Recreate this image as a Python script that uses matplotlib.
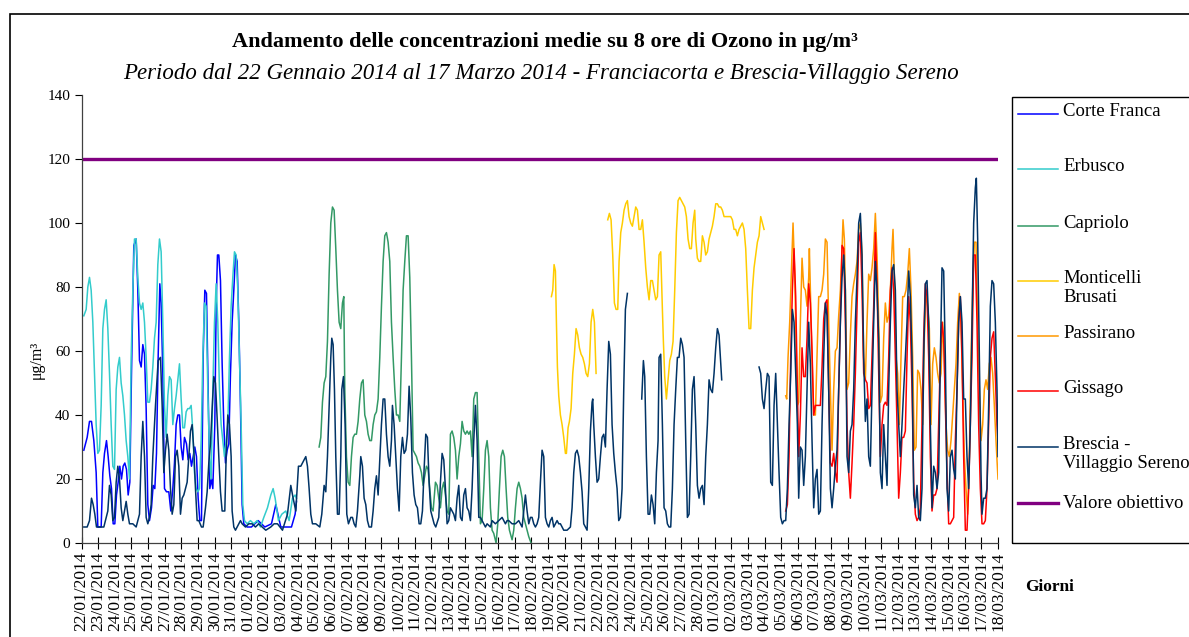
import numpy as np
import pandas as pd
import matplotlib
matplotlib.use("Agg")
import matplotlib.pyplot as plt
from matplotlib.lines import Line2D
from matplotlib.patches import Rectangle

plt.rcParams['font.family'] = ['Liberation Serif', 'DejaVu Serif']

# medie mobili su 8 ore, (giorno dal 22/01/2014, ug/m3); None = dato mancante
corte_franca = [
    (0.14, 29), (0.34, 33), (0.48, 38), (0.60, 38), (0.74, 32), (0.88, 22), (0.98, 5), (1.18, 5),
    (1.28, 22), (1.38, 28), (1.50, 32), (1.60, 27), (1.70, 21), (1.80, 17), (1.90, 6), (2.00, 6),
    (2.10, 15), (2.20, 19), (2.30, 24), (2.40, 20), (2.50, 24), (2.60, 25), (2.70, 23), (2.80, 15),
    (2.90, 19), (3.00, 53), (3.14, 93), (3.28, 95), (3.38, 79), (3.48, 57), (3.58, 55), (3.68, 62),
    (3.78, 59), (3.88, 42), (3.98, 12), (4.08, 7), (4.20, 11), (4.30, 18), (4.40, 17), (4.50, 28),
    (4.60, 58), (4.70, 81), (4.78, 75), (4.88, 53), (4.98, 17), (5.10, 16), (5.24, 16), (5.36, 10),
    (5.48, 17), (5.58, 25), (5.68, 37), (5.78, 40), (5.88, 40), (5.98, 30), (6.08, 26), (6.18, 33),
    (6.30, 31), (6.40, 26), (6.50, 28), (6.60, 24), (6.70, 27), (6.80, 30), (6.90, 27), (7.00, 14),
    (7.10, 7), (7.20, 7), (7.30, 58), (7.40, 79), (7.50, 78), (7.60, 48), (7.70, 17), (7.80, 20),
    (7.88, 17), (8.00, 37), (8.08, 74), (8.16, 90), (8.24, 90), (8.34, 82), (8.44, 56), (8.54, 37),
    (8.64, 25), (8.74, 29), (8.84, 31), (8.94, 53), (9.04, 69), (9.14, 79), (9.24, 90), (9.34, 88),
    (9.44, 69), (9.54, 43), (9.64, 12), (9.74, 6), (9.94, 5), (10.2, 5), (10.6, 7), (11.0, 5),
    (11.4, 6), (11.66, 12), (11.96, 5), (12.6, 5), (12.82, 9), (12.9, 13),
]

erbusco = [
    (0.14, 71), (0.28, 73), (0.38, 80), (0.48, 83), (0.58, 79), (0.68, 69), (0.78, 53), (0.88, 37),
    (0.98, 28), (1.08, 29), (1.18, 43), (1.28, 67), (1.38, 73), (1.48, 76), (1.58, 67), (1.68, 53),
    (1.78, 37), (1.88, 24), (1.98, 23), (2.08, 48), (2.18, 55), (2.28, 58), (2.38, 50), (2.48, 46),
    (2.58, 40), (2.68, 32), (2.78, 27), (2.88, 20), (2.98, 58), (3.08, 79), (3.18, 95), (3.28, 95),
    (3.38, 83), (3.48, 75), (3.58, 73), (3.68, 75), (3.78, 69), (3.88, 58), (3.98, 44), (4.08, 44),
    (4.18, 48), (4.28, 55), (4.38, 64), (4.48, 69), (4.58, 87), (4.68, 95), (4.78, 91), (4.88, 69),
    (4.98, 43), (5.08, 33), (5.18, 46), (5.28, 52), (5.38, 51), (5.48, 37), (5.58, 42), (5.68, 46),
    (5.78, 51), (5.88, 56), (5.98, 45), (6.08, 36), (6.18, 36), (6.28, 41), (6.38, 42), (6.48, 42),
    (6.58, 43), (6.68, 35), (6.78, 22), (6.88, 17), (6.98, 16), (7.08, 17), (7.18, 32), (7.28, 58),
    (7.38, 75), (7.48, 74), (7.58, 48), (7.68, 27), (7.78, 20), (7.88, 48), (7.98, 69), (8.08, 81),
    (8.18, 69), (8.28, 48), (8.38, 37), (8.48, 32), (8.58, 27), (8.68, 32), (8.78, 37), (8.88, 58),
    (8.98, 74), (9.08, 83), (9.18, 91), (9.28, 90), (9.38, 79), (9.48, 58), (9.58, 37), (9.68, 12),
    (9.78, 7), (9.94, 6), (10.14, 7), (10.34, 6), (10.54, 7), (10.74, 5), (10.94, 8), (11.16, 11),
    (11.36, 15), (11.5, 17), (11.62, 14), (11.82, 7), (12.02, 9), (12.26, 10), (12.46, 7), (12.66, 14),
    (12.82, 15), (12.9, 14),
]

capriolo = [
    (14.26, 30), (14.36, 33), (14.46, 44), (14.56, 50), (14.66, 52), (14.76, 63), (14.86, 84), (14.96, 100),
    (15.06, 105), (15.16, 104), (15.26, 92), (15.36, 79), (15.46, 69), (15.56, 67), (15.66, 75), (15.74, 77),
    (15.80, 48), (15.90, 27), (16.00, 19), (16.10, 18), (16.20, 27), (16.30, 33), (16.40, 34), (16.50, 34),
    (16.60, 38), (16.70, 45), (16.80, 50), (16.90, 51), (17.00, 40), (17.10, 38), (17.20, 34), (17.30, 32),
    (17.40, 32), (17.50, 37), (17.60, 40), (17.70, 41), (17.80, 45), (17.90, 58), (18.00, 74), (18.10, 88),
    (18.20, 96), (18.30, 97), (18.40, 94), (18.50, 88), (18.60, 69), (18.70, 58), (18.80, 48), (18.90, 40),
    (19.00, 40), (19.10, 38), (19.20, 58), (19.30, 79), (19.40, 88), (19.50, 96), (19.60, 96), (19.70, 83),
    (19.80, 58), (19.90, 29), (20.00, 28), (20.10, 27), (20.20, 25), (20.30, 24), (20.40, 22), (20.50, 18),
    (20.60, 21), (20.70, 24), (20.80, 23), (20.90, 17), (21.00, 11), (21.10, 10), (21.24, 19), (21.34, 18),
    (21.44, 14), (21.54, 11), (21.64, 17), (21.74, 19), (21.84, 15), (21.94, 10), (22.04, 9), (22.14, 34),
    (22.24, 35), (22.34, 33), (22.44, 29), (22.54, 20), (22.64, 27), (22.74, 31), (22.84, 38), (22.94, 35),
    (23.04, 34), (23.14, 35), (23.24, 34), (23.34, 35), (23.44, 27), (23.54, 45), (23.64, 47), (23.74, 47),
    (23.84, 27), (23.94, 6), (24.04, 7), (24.14, 17), (24.24, 29), (24.34, 32), (24.44, 27), (24.54, 11),
    (24.64, 4), (24.74, 3), (24.88, 0), (24.98, 6), (25.08, 17), (25.18, 27), (25.28, 29), (25.38, 27),
    (25.48, 17), (25.58, 8), (25.68, 4), (25.84, 1), (25.94, 4), (26.04, 11), (26.14, 17), (26.24, 19),
    (26.34, 17), (26.44, 14), (26.54, 8), (26.64, 6), (26.74, 4), (26.84, 2), (26.98, 0),
]

monticelli = [
    (28.20, 77), (28.28, 79), (28.36, 87), (28.44, 85), (28.50, 69), (28.56, 55), (28.64, 46), (28.74, 40),
    (28.84, 37), (28.94, 33), (29.04, 28), (29.10, 28), (29.20, 36), (29.28, 38), (29.38, 42), (29.48, 53),
    (29.58, 59), (29.68, 67), (29.78, 65), (29.88, 61), (29.98, 59), (30.08, 58), (30.18, 56), (30.28, 53),
    (30.38, 52), (30.48, 56), (30.58, 69), (30.68, 73), (30.78, 69), (30.88, 53), (31.2, None),
    (31.58, 101), (31.68, 103), (31.78, 101), (31.88, 90), (31.98, 75), (32.08, 73), (32.18, 73), (32.26, 88),
    (32.36, 97), (32.46, 100), (32.56, 104), (32.66, 106), (32.76, 107), (32.86, 102), (32.96, 100), (33.06, 99),
    (33.16, 102), (33.26, 105), (33.36, 104), (33.46, 98), (33.56, 98), (33.66, 101), (33.76, 94), (33.86, 86),
    (33.96, 80), (34.06, 76), (34.16, 82), (34.26, 82), (34.36, 79), (34.46, 76), (34.56, 77), (34.66, 90),
    (34.76, 91), (34.86, 73), (34.92, 63), (35.00, 52), (35.10, 45), (35.20, 51), (35.30, 57), (35.40, 59),
    (35.50, 63), (35.60, 79), (35.70, 97), (35.80, 107), (35.90, 108), (36.00, 107), (36.10, 106), (36.20, 105),
    (36.30, 102), (36.40, 95), (36.50, 92), (36.60, 92), (36.70, 100), (36.80, 104), (36.86, 95), (36.96, 89),
    (37.06, 88), (37.16, 88), (37.26, 96), (37.36, 94), (37.46, 90), (37.56, 91), (37.66, 95), (37.76, 97),
    (37.86, 99), (37.96, 102), (38.06, 106), (38.16, 106), (38.26, 105), (38.36, 105), (38.46, 104), (38.56, 102),
    (38.66, 102), (38.76, 102), (38.86, 102), (38.96, 102), (39.06, 101), (39.16, 98), (39.26, 98), (39.36, 96),
    (39.46, 98), (39.56, 99), (39.66, 100), (39.76, 98), (39.86, 92), (39.96, 79), (40.06, 67), (40.16, 67),
    (40.26, 79), (40.36, 86), (40.46, 90), (40.56, 94), (40.66, 96), (40.76, 102), (40.86, 100), (40.96, 98),
]

passirano = [
    (42.26, 46), (42.32, 45), (42.40, 58), (42.50, 69), (42.60, 84), (42.70, 100), (42.80, 84), (42.90, 58),
    (42.96, 43), (43.04, 44), (43.14, 69), (43.24, 89), (43.34, 80), (43.44, 79), (43.54, 74), (43.64, 83),
    (43.68, 92), (43.74, 79), (43.84, 58), (43.94, 40), (44.04, 40), (44.14, 58), (44.24, 77), (44.34, 77),
    (44.44, 79), (44.54, 84), (44.64, 95), (44.74, 94), (44.84, 69), (44.94, 48), (45.04, 29), (45.14, 48),
    (45.24, 60), (45.34, 61), (45.44, 71), (45.54, 79), (45.64, 92), (45.70, 101), (45.78, 95), (45.84, 79),
    (45.94, 48), (46.04, 50), (46.14, 65), (46.24, 77), (46.34, 81), (46.44, 84), (46.54, 88), (46.64, 98),
    (46.74, 100), (46.84, 90), (46.94, 58), (47.04, 51), (47.14, 69), (47.24, 84), (47.34, 82), (47.44, 86),
    (47.54, 92), (47.64, 103), (47.74, 90), (47.84, 69), (47.94, 44), (48.04, 46), (48.14, 64), (48.24, 75),
    (48.34, 69), (48.44, 71), (48.54, 79), (48.64, 92), (48.70, 98), (48.78, 84), (48.88, 58), (48.98, 53),
    (49.08, 37), (49.18, 58), (49.28, 77), (49.38, 77), (49.48, 79), (49.58, 84), (49.68, 92), (49.78, 79),
    (49.88, 58), (49.98, 29), (50.08, 30), (50.18, 54), (50.28, 53), (50.38, 48), (50.48, 37), (50.58, 64),
    (50.68, 79), (50.78, 74), (50.88, 67), (50.98, 37), (51.08, 56), (51.18, 61), (51.28, 58), (51.38, 53),
    (51.48, 50), (51.58, 53), (51.68, 69), (51.78, 58), (51.88, 37), (51.98, 29), (52.08, 27), (52.18, 32),
    (52.28, 40), (52.38, 48), (52.48, 56), (52.58, 69), (52.68, 78), (52.78, 69), (52.88, 48), (52.98, 27),
    (53.08, 17), (53.18, 9), (53.28, 27), (53.38, 58), (53.48, 79), (53.58, 94), (53.68, 94), (53.78, 69),
    (53.88, 48), (53.98, 32), (54.08, 37), (54.18, 48), (54.28, 51), (54.38, 48), (54.48, 56), (54.58, 58),
    (54.68, 53), (54.78, 43), (54.88, 32), (55.0, 20),
]

gissago = [
    (42.26, 10), (42.36, 12), (42.46, 27), (42.56, 58), (42.66, 79), (42.76, 92), (42.86, 77), (42.96, 48),
    (43.04, 27), (43.14, 40), (43.24, 61), (43.34, 52), (43.44, 52), (43.54, 64), (43.64, 81), (43.74, 75),
    (43.84, 60), (43.94, 40), (44.04, 43), (44.14, 43), (44.24, 43), (44.34, 43), (44.44, 55), (44.54, 70),
    (44.64, 75), (44.74, 76), (44.84, 48), (44.94, 25), (45.04, 24), (45.14, 28), (45.24, 22), (45.34, 19),
    (45.44, 48), (45.54, 69), (45.64, 93), (45.74, 92), (45.84, 69), (45.94, 37), (46.04, 22), (46.14, 14),
    (46.24, 25), (46.34, 37), (46.44, 53), (46.54, 74), (46.64, 94), (46.74, 97), (46.84, 79), (46.94, 53),
    (47.04, 51), (47.14, 50), (47.24, 42), (47.34, 43), (47.44, 58), (47.54, 74), (47.64, 97), (47.74, 81),
    (47.84, 53), (47.94, 27), (48.04, 37), (48.14, 43), (48.24, 44), (48.34, 43), (48.44, 58), (48.54, 79),
    (48.64, 86), (48.74, 79), (48.84, 58), (48.94, 37), (49.04, 14), (49.14, 22), (49.24, 33), (49.34, 33),
    (49.44, 35), (49.54, 58), (49.64, 77), (49.74, 69), (49.84, 48), (49.94, 19), (50.04, 9), (50.14, 7),
    (50.24, 8), (50.34, 11), (50.44, 37), (50.54, 64), (50.64, 81), (50.74, 77), (50.84, 58), (50.94, 27),
    (51.04, 10), (51.14, 15), (51.24, 15), (51.34, 17), (51.44, 37), (51.54, 58), (51.64, 69), (51.74, 64),
    (51.84, 43), (51.94, 22), (52.04, 6), (52.14, 6), (52.24, 7), (52.34, 8), (52.44, 32), (52.54, 48),
    (52.64, 69), (52.74, 77), (52.84, 58), (52.94, 27), (53.04, 4), (53.14, 4), (53.24, 17), (53.34, 37),
    (53.44, 58), (53.54, 90), (53.64, 90), (53.74, 69), (53.84, 37), (53.94, 17), (54.04, 6), (54.14, 6),
    (54.24, 7), (54.34, 17), (54.44, 37), (54.54, 58), (54.64, 64), (54.74, 66), (54.84, 52), (54.94, 37),
    (55.0, 32),
]

brescia = [
    (0.14, 5), (0.34, 5), (0.48, 7), (0.60, 14), (0.70, 12), (0.80, 9), (0.90, 5), (1.00, 5),
    (1.14, 5), (1.34, 5), (1.48, 8), (1.58, 10), (1.68, 18), (1.78, 15), (1.88, 7), (1.98, 8),
    (2.08, 19), (2.18, 24), (2.28, 20), (2.38, 11), (2.48, 7), (2.58, 10), (2.68, 13), (2.78, 9),
    (2.88, 6), (3.08, 6), (3.28, 5), (3.48, 9), (3.58, 27), (3.68, 38), (3.78, 27), (3.88, 8),
    (3.98, 6), (4.08, 8), (4.18, 12), (4.28, 27), (4.44, 43), (4.60, 57), (4.74, 58), (4.84, 43),
    (4.94, 22), (5.04, 29), (5.14, 34), (5.24, 29), (5.34, 17), (5.44, 9), (5.54, 12), (5.64, 27),
    (5.74, 29), (5.84, 24), (5.94, 9), (6.04, 14), (6.14, 15), (6.24, 17), (6.34, 19), (6.44, 27),
    (6.54, 35), (6.64, 37), (6.74, 29), (6.84, 17), (6.94, 7), (7.04, 7), (7.20, 5), (7.30, 5),
    (7.44, 11), (7.54, 16), (7.64, 25), (7.74, 31), (7.84, 42), (7.94, 52), (8.04, 50), (8.14, 39),
    (8.24, 27), (8.34, 16), (8.44, 10), (8.60, 10), (8.68, 27), (8.78, 40), (8.88, 37), (8.98, 27),
    (9.04, 10), (9.14, 5), (9.24, 4), (9.44, 6), (9.54, 7), (9.64, 6), (9.84, 5), (10.04, 6),
    (10.24, 6), (10.44, 5), (10.64, 6), (10.84, 5), (11.06, 4), (11.36, 5), (11.56, 6), (11.76, 6),
    (12.06, 4), (12.36, 9), (12.56, 18), (12.70, 14), (12.86, 10), (13.02, 24), (13.16, 24), (13.36, 26),
    (13.46, 27), (13.56, 24), (13.66, 17), (13.76, 9), (13.86, 6), (14.06, 6), (14.30, 5), (14.42, 9),
    (14.56, 18), (14.66, 16), (14.76, 27), (14.86, 43), (14.96, 58), (15.02, 64), (15.10, 62), (15.18, 48),
    (15.26, 27), (15.36, 9), (15.46, 9), (15.56, 27), (15.62, 48), (15.72, 52), (15.82, 37), (15.92, 9),
    (16.02, 6), (16.16, 8), (16.26, 8), (16.36, 6), (16.46, 5), (16.56, 10), (16.70, 21), (16.76, 27),
    (16.86, 24), (16.96, 14), (17.06, 12), (17.16, 7), (17.26, 5), (17.40, 5), (17.50, 10), (17.60, 17),
    (17.70, 21), (17.80, 15), (17.90, 26), (18.00, 37), (18.10, 45), (18.20, 45), (18.30, 34), (18.40, 27),
    (18.50, 24), (18.60, 32), (18.66, 43), (18.76, 37), (18.86, 27), (18.96, 17), (19.06, 10), (19.16, 27),
    (19.26, 33), (19.36, 28), (19.46, 29), (19.56, 34), (19.66, 49), (19.76, 39), (19.86, 22), (19.96, 15),
    (20.06, 12), (20.16, 11), (20.26, 6), (20.36, 6), (20.46, 10), (20.56, 23), (20.66, 34), (20.76, 33),
    (20.86, 19), (20.96, 10), (21.06, 8), (21.16, 6), (21.26, 5), (21.44, 8), (21.54, 19), (21.64, 28),
    (21.74, 26), (21.84, 17), (21.94, 6), (22.04, 7), (22.14, 11), (22.24, 10), (22.34, 9), (22.44, 7),
    (22.54, 14), (22.64, 18), (22.74, 8), (22.84, 7), (22.94, 15), (23.04, 17), (23.14, 11), (23.24, 10),
    (23.34, 7), (23.44, 17), (23.54, 32), (23.64, 43), (23.74, 32), (23.84, 8), (23.94, 8), (24.04, 7),
    (24.14, 6), (24.24, 5), (24.34, 6), (24.54, 5), (24.64, 7), (24.84, 6), (25.04, 7), (25.24, 8),
    (25.44, 6), (25.54, 7), (25.64, 7), (25.84, 6), (26.04, 6), (26.24, 7), (26.44, 5), (26.64, 15),
    (26.74, 10), (26.84, 6), (26.94, 8), (27.04, 8), (27.14, 6), (27.24, 5), (27.34, 6), (27.44, 8),
    (27.54, 19), (27.64, 29), (27.74, 27), (27.84, 8), (27.94, 6), (28.04, 5), (28.14, 7), (28.24, 8),
    (28.34, 5), (28.44, 6), (28.54, 7), (28.64, 6), (28.74, 6), (28.84, 5), (28.94, 4), (29.14, 4),
    (29.34, 5), (29.44, 11), (29.54, 22), (29.64, 28), (29.74, 29), (29.84, 27), (29.94, 22), (30.04, 16),
    (30.14, 6), (30.24, 5), (30.34, 4), (30.44, 17), (30.54, 35), (30.64, 44), (30.68, 45), (30.74, 37),
    (30.84, 27), (30.94, 19), (31.04, 20), (31.14, 27), (31.24, 33), (31.34, 34), (31.44, 30), (31.54, 48),
    (31.64, 63), (31.74, 59), (31.84, 37), (31.94, 28), (32.04, 22), (32.14, 17), (32.24, 7), (32.34, 8),
    (32.44, 17), (32.54, 48), (32.64, 73), (32.76, 78), (33.2, None),
    (33.62, 45), (33.72, 57), (33.80, 52), (33.90, 27), (34.00, 9), (34.10, 9), (34.20, 15), (34.30, 12),
    (34.40, 6), (34.50, 22), (34.60, 32), (34.66, 58), (34.76, 59), (34.86, 37), (34.96, 11), (35.06, 10),
    (35.16, 6), (35.26, 5), (35.36, 5), (35.46, 17), (35.56, 37), (35.66, 48), (35.76, 58), (35.86, 58),
    (35.96, 64), (36.06, 62), (36.16, 58), (36.26, 32), (36.36, 8), (36.46, 9), (36.56, 27), (36.66, 48),
    (36.76, 52), (36.86, 37), (36.96, 18), (37.06, 14), (37.16, 17), (37.26, 18), (37.36, 12), (37.46, 27),
    (37.56, 37), (37.66, 51), (37.76, 48), (37.86, 47), (37.96, 53), (38.06, 61), (38.16, 67), (38.26, 65),
    (38.36, 56), (38.42, 51), (39.5, None),
    (40.66, 55), (40.76, 53), (40.86, 45), (40.96, 42), (41.06, 48), (41.16, 53), (41.26, 52), (41.36, 19),
    (41.46, 18), (41.56, 43), (41.66, 53), (41.76, 37), (41.86, 22), (41.96, 8), (42.06, 6), (42.16, 7),
    (42.26, 7), (42.36, 17), (42.46, 37), (42.56, 53), (42.66, 73), (42.76, 69), (42.86, 53), (42.96, 37),
    (43.04, 14), (43.14, 30), (43.24, 29), (43.34, 18), (43.44, 27), (43.54, 48), (43.64, 69), (43.74, 56),
    (43.84, 32), (43.94, 11), (44.04, 20), (44.14, 23), (44.24, 9), (44.34, 10), (44.44, 37), (44.54, 58),
    (44.64, 75), (44.74, 71), (44.84, 48), (44.94, 17), (45.04, 11), (45.14, 17), (45.24, 24), (45.34, 29),
    (45.44, 48), (45.54, 69), (45.64, 83), (45.74, 90), (45.84, 79), (45.94, 27), (46.04, 22), (46.14, 35),
    (46.24, 37), (46.34, 48), (46.44, 69), (46.54, 83), (46.64, 100), (46.74, 103), (46.84, 90), (46.94, 58),
    (47.04, 38), (47.14, 45), (47.24, 27), (47.34, 24), (47.44, 48), (47.54, 69), (47.64, 88), (47.74, 79),
    (47.84, 64), (47.94, 22), (48.04, 17), (48.14, 37), (48.24, 27), (48.34, 18), (48.44, 48), (48.54, 69),
    (48.64, 85), (48.74, 87), (48.84, 79), (48.94, 48), (49.04, 37), (49.14, 27), (49.24, 37), (49.34, 48),
    (49.44, 58), (49.54, 69), (49.64, 85), (49.74, 77), (49.84, 58), (49.94, 15), (50.04, 11), (50.14, 18),
    (50.24, 8), (50.34, 7), (50.44, 17), (50.54, 58), (50.64, 81), (50.74, 82), (50.84, 69), (50.94, 37),
    (51.04, 11), (51.14, 24), (51.24, 22), (51.34, 17), (51.44, 22), (51.54, 58), (51.64, 86), (51.74, 85),
    (51.84, 58), (51.94, 17), (52.04, 10), (52.14, 27), (52.24, 29), (52.34, 23), (52.44, 20), (52.54, 48),
    (52.64, 69), (52.74, 77), (52.84, 69), (52.94, 45), (53.04, 45), (53.14, 27), (53.24, 17), (53.34, 37),
    (53.44, 69), (53.54, 100), (53.64, 111), (53.70, 114), (53.78, 95), (53.88, 58), (53.98, 22), (54.04, 9),
    (54.14, 14), (54.24, 14), (54.34, 17), (54.44, 43), (54.54, 74), (54.64, 82), (54.74, 81), (54.84, 69),
    (54.94, 48), (55.0, 27),
]

valore_obiettivo = 120

stazioni = ["Corte Franca", "Erbusco", "Capriolo", "Monticelli\nBrusati", "Passirano",
            "Gissago", "Brescia -\nVillaggio Sereno"]
serie = [corte_franca, erbusco, capriolo, monticelli, passirano, gissago, brescia]
colori = ["#0000FF", "#33CCCC", "#339966", "#FFCC00", "#FF9900", "#FF0000", "#003366"]
colore_obiettivo = "#800080"

giorni = pd.date_range("2014-01-22", "2014-03-18", freq="D")
etichette_giorni = [d.strftime("%d/%m/%Y") for d in giorni]

W, H = 1189, 637


def fx(x):
    return x / W


def fy(y):
    return 1 - y / H


fig = plt.figure(figsize=(W / 100, H / 100), dpi=100)
ax = fig.add_axes([fx(81.5), fy(543), (998 - 81.5) / W, (543 - 95) / H])

for dati, colore in zip(serie, colori):
    x = np.array([p[0] for p in dati], dtype=float)
    y = np.array([np.nan if p[1] is None else p[1] for p in dati], dtype=float)
    ax.plot(x, y, color=colore, lw=1.1, solid_joinstyle="round")

ax.plot([0, len(giorni) - 1], [valore_obiettivo, valore_obiettivo], color=colore_obiettivo, lw=2.4,
        solid_capstyle="butt")

ax.set_xlim(0, len(giorni) - 1)
ax.set_ylim(0, 140)
ax.set_yticks(np.arange(0, 141, 20))
ax.set_xticks(np.arange(len(giorni)))
ax.set_xticklabels(etichette_giorni, rotation=90, fontsize=12.5, va="top")
ax.tick_params(axis="x", direction="inout", length=8, width=0.8, pad=2)
ax.tick_params(axis="y", direction="out", length=5, width=0.8, labelsize=11, pad=3)
for s in ["top", "right"]:
    ax.spines[s].set_visible(False)
for s in ["left", "bottom"]:
    ax.spines[s].set_color("#404040")
    ax.spines[s].set_linewidth(0.9)

# titoli ed etichette
fig.text(fx(545), fy(42), "Andamento delle concentrazioni medie su 8 ore di Ozono in μg/m³",
         ha="center", va="center", fontsize=16, fontweight="bold")
fig.text(fx(541), fy(73),
         "Periodo dal 22 Gennaio 2014 al 17 Marzo 2014 - Franciacorta e Brescia-Villaggio Sereno",
         ha="center", va="center", fontsize=16.5, fontstyle="italic")
fig.text(fx(37), fy(360), "μg/m³", rotation=90, ha="center", va="center", fontsize=11.5)
fig.text(fx(1050), fy(587), "Giorni", ha="center", va="center", fontsize=12.5, fontweight="bold")

# cornice esterna
fig.add_artist(Rectangle((fx(10), fy(660)), fx(1200) - fx(10), fy(14) - fy(660),
                         transform=fig.transFigure, fill=False, edgecolor="black", lw=1.2))

# legenda
fig.add_artist(Rectangle((fx(1012), fy(543)), fx(1200) - fx(1012), fy(97) - fy(543),
                         transform=fig.transFigure, fill=False, edgecolor="black", lw=1.0))
pos_legenda = [114, 169, 226, 281, 336, 391, 447]
for nome, colore, yy in zip(stazioni, colori, pos_legenda):
    fig.add_artist(Line2D([fx(1018), fx(1058)], [fy(yy), fy(yy)], color=colore, lw=1.1,
                          transform=fig.transFigure))
    fig.text(fx(1063), fy(yy - 11), nome, ha="left", va="top", fontsize=13.5, linespacing=1.15)
fig.add_artist(Line2D([fx(1018), fx(1058)], [fy(503), fy(503)], color=colore_obiettivo, lw=2.4,
                      transform=fig.transFigure))
fig.text(fx(1063), fy(503), "Valore obiettivo", ha="left", va="center", fontsize=13.5)

fig.savefig("out.png", dpi=100)
